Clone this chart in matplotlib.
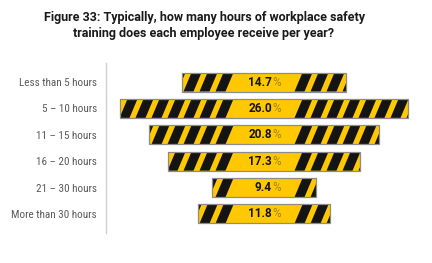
import matplotlib
matplotlib.use('Agg')
from matplotlib import pyplot as plt
from matplotlib.patches import Rectangle, Polygon

categories = ['Less than 5 hours', '5 – 10 hours', '11 – 15 hours',
              '16 – 20 hours', '21 – 30 hours', 'More than 30 hours']
shares = [14.7, 26.0, 20.8, 17.3, 9.4, 11.8]

title = ('Figure 33: Typically, how many hours of workplace safety\n'
         'training does each employee receive per year?')

yellow = '#ffc800'
black = '#141414'
edge = '#8c8c8c'
pct_color = '#9a8420'
cond = ['Roboto Condensed', 'Roboto', 'DejaVu Sans']

W, H = 432, 263
fig = plt.figure(figsize=(W / 100, H / 100), dpi=100)
# axes from the grey divider line (x=106 px) to the right margin
ax = fig.add_axes([106 / W, 1 - 233 / H, 316 / W, 170 / H])
ax.set_xlim(-14.23, 14.23)
ax.set_ylim(5.72, -0.72)

px_x = 316 / 28.46   # pixels per percent
bar_h = 0.72
slant = 8.0 / px_x    # horizontal shift of a stripe over the bar height
period = 16.0 / px_x
black_w = 10.0 / px_x
plain = 34.5 / px_x   # half width of the plain yellow middle

for i, v in enumerate(shares):
    left = -v / 2
    rect = Rectangle((left, i - bar_h / 2), v, bar_h, facecolor=yellow,
                     edgecolor='none', zorder=2)
    ax.add_patch(rect)
    y0, y1 = i + bar_h / 2, i - bar_h / 2   # bottom, top (y inverted)

    def stripe(xm):
        # xm = left edge of the black stripe at mid height
        pts = [(xm - slant / 2, y0), (xm - slant / 2 + black_w, y0),
               (xm + slant / 2 + black_w, y1), (xm + slant / 2, y1)]
        p = Polygon(pts, closed=True, facecolor=black, edgecolor='none', zorder=3)
        ax.add_patch(p)
        p.set_clip_path(rect)

    x = plain
    while x - slant < v / 2:
        stripe(x)
        x += period
    x = -plain - black_w
    while x + black_w + slant > -v / 2:
        stripe(x)
        x -= period

    ax.add_patch(Rectangle((left, i - bar_h / 2), v, bar_h, facecolor='none',
                           edgecolor=edge, linewidth=0.9, zorder=4))

    ax.annotate(f'{v:.1f}', (0, i), xytext=(8, 0), textcoords='offset pixels',
                ha='right', va='center', fontsize=8.5, fontweight='bold',
                color=black, family=['Roboto', 'DejaVu Sans'], zorder=5)
    ax.annotate('%', (0, i), xytext=(8, 0), textcoords='offset pixels',
                ha='left', va='center', fontsize=8.5, color=pct_color,
                family=['Roboto', 'DejaVu Sans'], zorder=5)

ax.set_yticks(range(len(categories)))
ax.set_yticklabels(categories, fontsize=8, color='#5a5a5a', family=cond)
ax.tick_params(axis='y', length=0, pad=6.5)
ax.set_xticks([])
for s in ['top', 'right', 'bottom']:
    ax.spines[s].set_visible(False)
ax.spines['left'].set_color('#cfcfcf')
ax.spines['left'].set_linewidth(1)

fig.text(204 / W, 1 - 25 / H, title, ha='center', va='center', fontsize=9,
         fontweight='bold', color='#1a1a1a', linespacing=1.3,
         family=['Roboto', 'DejaVu Sans'])

fig.savefig('out.png', dpi=100)
